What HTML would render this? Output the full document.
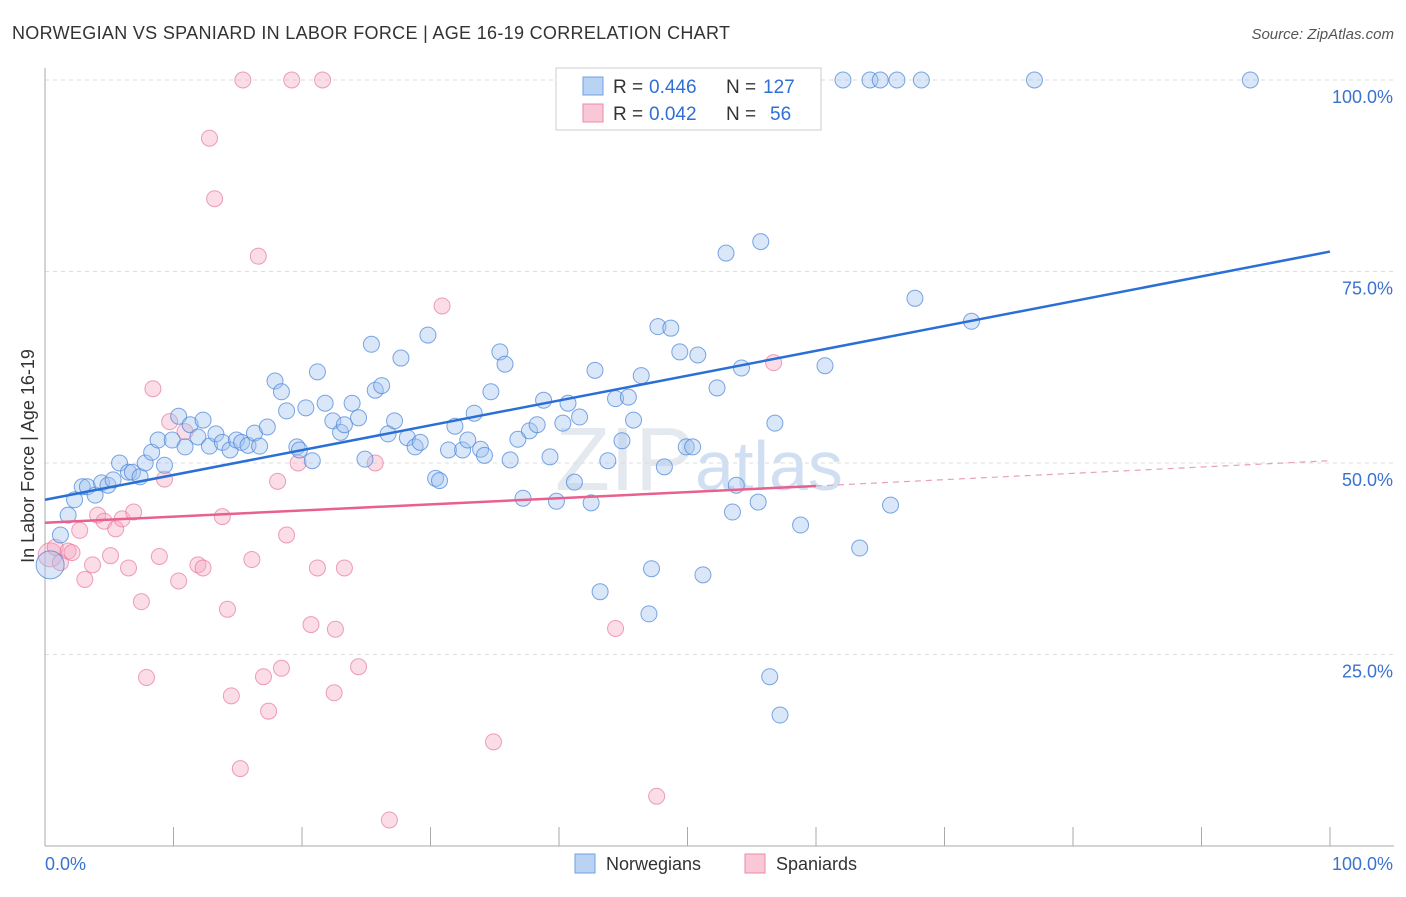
<!DOCTYPE html>
<html><head><meta charset="utf-8"><style>
body{margin:0;background:#fff;font-family:"Liberation Sans",sans-serif;}
svg text{font-family:"Liberation Sans",sans-serif;}
</style></head><body>
<svg id="chart" width="1406" height="892" xmlns="http://www.w3.org/2000/svg">
<text x="12" y="39" font-size="18" fill="#333" textLength="718">NORWEGIAN VS SPANIARD IN LABOR FORCE | AGE 16-19 CORRELATION CHART</text>
<text x="1394" y="39" font-size="15" fill="#555" font-style="italic" text-anchor="end">Source: ZipAtlas.com</text>
<text x="555" y="490" font-size="90" fill="#e4e9f0" font-family="Liberation Serif">ZIP<tspan font-family="Liberation Sans" font-size="70" fill="#d0e0f2">atlas</tspan></text>
<g id="grid"></g>
<g id="axes"></g>
<g id="pts"></g>
<g id="lines"></g>
<text transform="translate(34,456) rotate(-90)" font-size="18" fill="#333" text-anchor="middle">In Labor Force | Age 16-19</text>
<g>
<rect x="556" y="68" width="265" height="62" fill="#fff" stroke="#ccc"/>
<rect x="583" y="77" width="20" height="18" fill="#b9d3f5" stroke="#6fa0e0"/>
<rect x="583" y="104" width="20" height="18" fill="#f9c8d6" stroke="#eb8aa8"/>
<text x="613" y="93" font-size="19" fill="#333">R =</text>
<text x="649" y="93" font-size="19" fill="#2f6fd6">0.446</text>
<text x="726" y="93" font-size="19" fill="#333">N =</text>
<text x="763" y="93" font-size="19" fill="#2f6fd6">127</text>
<text x="613" y="120" font-size="19" fill="#333">R =</text>
<text x="649" y="120" font-size="19" fill="#2f6fd6">0.042</text>
<text x="726" y="120" font-size="19" fill="#333">N =</text>
<text x="770" y="120" font-size="19" fill="#2f6fd6">56</text>
</g>
<g>
<rect x="575" y="854" width="20" height="19" fill="#b9d3f5" stroke="#6fa0e0"/>
<text x="606" y="870" font-size="18" fill="#333">Norwegians</text>
<rect x="745" y="854" width="20" height="19" fill="#f9c8d6" stroke="#eb8aa8"/>
<text x="776" y="870" font-size="18" fill="#333">Spaniards</text>
</g>
</svg>
<script>
const blueX=[0.4,1.2,1.8,2.3,2.9,3.3,3.9,4.4,4.9,5.3,5.8,6.5,6.8,7.4,7.8,8.3,8.8,9.3,9.9,10.4,10.9,11.3,11.9,12.3,12.8,13.3,13.8,14.4,14.9,15.3,15.8,16.3,16.7,17.3,17.9,18.4,18.8,19.6,19.8,20.3,20.8,21.2,21.8,22.4,23.0,23.3,23.9,24.4,24.9,25.4,25.7,26.2,26.7,27.2,27.7,28.2,28.8,29.2,29.8,30.4,30.7,31.4,31.9,32.5,32.9,33.4,33.9,34.2,34.7,35.4,35.8,36.2,36.8,37.2,37.7,38.3,38.8,39.3,39.8,40.3,40.7,41.2,41.6,42.5,42.8,43.2,43.8,44.4,44.9,45.4,45.8,46.4,47.0,47.2,47.7,48.2,48.7,49.4,49.9,50.4,50.8,51.2,52.3,53.0,53.5,53.8,54.2,55.5,55.7,56.4,56.8,57.2,58.8,60.7,62.1,63.4,64.2,65.0,66.3,67.7,68.2,72.1,77.0,93.8,65.8];
const blueY=[36.7,40.6,43.2,45.2,46.9,46.9,45.8,47.4,47.1,47.8,50.0,48.8,48.8,48.2,50.0,51.4,53.0,49.7,53.0,56.1,52.1,55.0,53.4,55.6,52.2,53.8,52.7,51.7,53.0,52.7,52.3,53.9,52.2,54.7,60.7,59.3,56.8,52.1,51.7,57.2,50.3,61.9,57.8,55.5,54.0,55.0,57.8,55.9,50.5,65.5,59.5,60.1,53.8,55.5,63.7,53.3,52.1,52.7,66.7,48.0,47.7,51.7,54.8,51.7,53.0,56.5,51.8,51.0,59.3,64.5,62.9,50.4,53.1,45.4,54.2,55.0,58.2,50.8,45.0,55.2,57.8,47.5,56.0,44.8,62.1,33.2,50.3,58.4,52.9,58.6,55.6,61.4,30.3,36.2,67.8,49.5,67.6,64.5,52.1,52.1,64.1,35.4,59.8,77.4,43.6,47.1,62.4,44.9,78.9,22.1,55.2,17.1,41.9,62.7,100,38.9,100,100,100,71.5,100,68.5,100,100,44.5];
const pinkX=[0.4,0.8,1.2,1.8,2.1,2.7,3.1,3.7,4.1,4.6,5.1,5.5,6,6.5,6.9,7.5,7.9,8.4,8.9,9.3,9.7,10.4,10.9,11.9,12.3,12.8,13.2,13.8,14.2,14.5,15.2,15.4,16.1,16.6,17,17.4,18.1,18.4,18.8,19.2,19.7,20.7,21.2,21.6,22.5,22.6,23.3,24.4,25.7,26.8,30.9,34.9,40.6,44.4,47.6,56.7];
const pinkY=[38,39,37,38.5,38.3,41.2,34.8,36.7,43.2,42.4,37.9,41.4,42.7,36.3,43.6,31.9,22,59.7,37.8,47.9,55.4,34.6,54.1,36.7,36.3,92.4,84.5,43,30.9,19.6,10.1,100,37.4,77,22.1,17.6,47.6,23.2,40.6,100,50,28.9,36.3,100,20,28.3,36.3,23.4,50,3.4,70.5,13.6,100,28.4,6.5,63.1];
const NS='http://www.w3.org/2000/svg';
const L=45,R=1330,T=80,B=846;
const xs=v=>L+(R-L)*v/100;
const ys=v=>B-(B-T)*v/100;
const yTicks=[25,50,75,100];
const yLabels=['25.0%','50.0%','75.0%','100.0%'];
const grid=document.getElementById('grid'),axes=document.getElementById('axes');
function mk(tag,attrs,parent){const e=document.createElementNS(NS,tag);for(const k in attrs)e.setAttribute(k,attrs[k]);parent.appendChild(e);return e;}
yTicks.forEach((t,i)=>{
 const l=mk('line',{x1:L,x2:1394,y1:ys(t),y2:ys(t),stroke:'#ddd','stroke-dasharray':'4,4'},grid);
 
 
 const tx=mk('text',{x:1393,y:ys(t)+23,'font-size':18,fill:'#3a72d0','text-anchor':'end'},axes);
 tx.textContent=yLabels[i];
 
 
});
const ax=mk('line',{x1:L,x2:L,y1:68,y2:B,stroke:'#aaa'},axes);


const bx=mk('line',{x1:L,x2:1394,y1:B,y2:B,stroke:'#aaa'},axes);


for(let i=0;i<=10;i++){const t=mk('line',{x1:xs(i*10),x2:xs(i*10),y1:827,y2:B,stroke:'#aaa'},axes);
 
 }
const xl0=mk('text',{x:45,y:870,'font-size':18,fill:'#3a72d0'},axes);xl0.textContent='0.0%';


const xl1=mk('text',{x:1393,y:870,'font-size':18,fill:'#3a72d0','text-anchor':'end'},axes);xl1.textContent='100.0%';


const pts=document.getElementById('pts');
pinkX.forEach((x,i)=>{const c=mk('circle',{cx:xs(x),cy:ys(pinkY[i]),r:i==0?12:8,fill:'rgba(246,170,195,0.4)',stroke:'rgba(232,120,155,0.7)','stroke-width':1},pts);
 
 });
blueX.forEach((x,i)=>{const c=mk('circle',{cx:xs(x),cy:ys(blueY[i]),r:i==0?14:8,fill:'rgba(160,195,240,0.4)',stroke:'rgba(70,130,215,0.7)','stroke-width':1},pts);
 
 });
const lines=document.getElementById('lines');
const bl=mk('line',{x1:xs(0),y1:ys(45.2),x2:xs(100),y2:ys(77.6),stroke:'#2a6fd6','stroke-width':2.5},lines);


const pl=mk('line',{x1:xs(0),y1:ys(42.2),x2:xs(60),y2:ys(47),stroke:'#e8608e','stroke-width':2.5},lines);


const pd=mk('line',{x1:xs(60),y1:ys(47),x2:xs(100),y2:ys(50.3),stroke:'#e8a0b8','stroke-width':1.2,'stroke-dasharray':'6,5'},lines);


</script>
</body></html>
